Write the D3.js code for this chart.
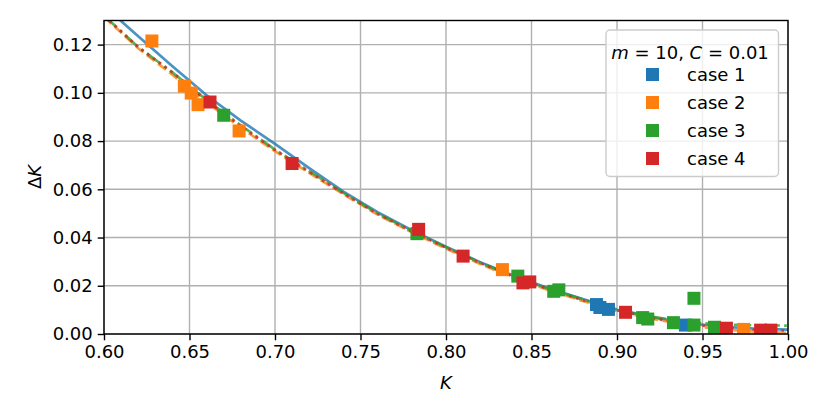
<html>
<head>
<script src="https://cdn.jsdelivr.net/npm/d3@7"></script>
<style>
  body { margin: 0; background: #fff; }
  text { font-family: "DejaVu Sans", sans-serif; }
</style>
</head>
<body>
<svg id="chart" width="830" height="415"></svg>
<script>
// curve samples (K grid shared by all four fitted curves)
var curveK = [0.60, 0.62, 0.64, 0.66, 0.68, 0.70, 0.72, 0.74, 0.76, 0.78, 0.80,
              0.82, 0.84, 0.86, 0.88, 0.90, 0.92, 0.94, 0.96, 0.98, 1.00];
var curve1 = [0.136, 0.1235, 0.111, 0.099, 0.0885, 0.0788, 0.0688, 0.0590, 0.0505, 0.0430, 0.0362,
              0.0298, 0.0240, 0.0190, 0.0145, 0.0100, 0.0070, 0.0046, 0.0031, 0.0022, 0.0018];
var curve2 = [0.1315, 0.1185, 0.1075, 0.0960, 0.0855, 0.0758, 0.0668, 0.0580, 0.0495, 0.0422, 0.0354,
              0.0290, 0.0232, 0.0182, 0.0137, 0.0095, 0.0064, 0.0038, 0.0020, 0.0010, 0.0005];
var curve3 = [0.132, 0.119, 0.1085, 0.0970, 0.0865, 0.0765, 0.0675, 0.0585, 0.0500, 0.0427, 0.0360,
              0.0296, 0.0238, 0.0188, 0.0143, 0.0102, 0.0072, 0.0050, 0.0040, 0.0036, 0.0035];
var curve4 = [0.132, 0.119, 0.1085, 0.0968, 0.0862, 0.0763, 0.0672, 0.0583, 0.0498, 0.0425, 0.0358,
              0.0294, 0.0236, 0.0186, 0.0140, 0.0098, 0.0067, 0.0042, 0.0027, 0.0018, 0.0014];

// measured points
var case1K = [0.888, 0.890, 0.895, 0.940];
var case1D = [0.0122, 0.0110, 0.0102, 0.0037];
var case2K = [0.628, 0.647, 0.651, 0.655, 0.679, 0.833, 0.974];
var case2D = [0.1215, 0.1028, 0.0999, 0.0951, 0.0842, 0.0267, 0.0019];
var case3K = [0.670, 0.783, 0.842, 0.863, 0.866, 0.915, 0.918, 0.933, 0.945, 0.945, 0.957];
var case3D = [0.0907, 0.0416, 0.0240, 0.0177, 0.0183, 0.0068, 0.0062, 0.0047, 0.0037, 0.0148, 0.0028];
var case4K = [0.662, 0.710, 0.784, 0.810, 0.845, 0.849, 0.905, 0.964, 0.984, 0.990];
var case4D = [0.0962, 0.0707, 0.0434, 0.0323, 0.0212, 0.0216, 0.0090, 0.0024, 0.0016, 0.0016];

var caseNames = ["case 1", "case 2", "case 3", "case 4"];
var colors = ["#1f77b4", "#ff7f0e", "#2ca02c", "#d62728"];
var xTicks = [0.60, 0.65, 0.70, 0.75, 0.80, 0.85, 0.90, 0.95, 1.00];
var yTicks = [0.00, 0.02, 0.04, 0.06, 0.08, 0.10, 0.12];

var pL = 104, pR = 788, pT = 20.5, pB = 334;
var x = d3.scaleLinear().domain([0.6, 1.0]).range([pL, pR]);
var y = d3.scaleLinear().domain([0, 0.13]).range([pB, pT]);

var svg = d3.select("#chart");

svg.append("defs").append("clipPath").attr("id", "plot")
  .append("rect").attr("x", pL).attr("y", pT)
  .attr("width", pR - pL).attr("height", pB - pT);

// grid
svg.append("g").selectAll("line").data(xTicks).enter().append("line")
  .attr("x1", function(d){ return x(d); }).attr("x2", function(d){ return x(d); })
  .attr("y1", pT).attr("y2", pB)
  .attr("stroke", "#b0b0b0").attr("stroke-width", 1.4);
svg.append("g").selectAll("line").data(yTicks).enter().append("line")
  .attr("y1", function(d){ return y(d); }).attr("y2", function(d){ return y(d); })
  .attr("x1", pL).attr("x2", pR)
  .attr("stroke", "#b0b0b0").attr("stroke-width", 1.4);

// curves
var curves = [curve1, curve2, curve3, curve4];
var dashes = [null, "10,4.3", "17.3,4.3,2.7,4.3", "2.7,4.5"];
var line = d3.line().x(function(d){ return x(d[0]); }).y(function(d){ return y(d[1]); });
var lineG = svg.append("g").attr("clip-path", "url(#plot)");
curves.forEach(function(c, i) {
  lineG.append("path")
    .attr("d", line(d3.zip(curveK, c)))
    .attr("fill", "none")
    .attr("stroke", colors[i])
    .attr("stroke-opacity", 0.8)
    .attr("stroke-width", 2.7)
    .attr("stroke-dasharray", dashes[i]);
});

// markers
var ms = 13;
var caseK = [case1K, case2K, case3K, case4K];
var caseD = [case1D, case2D, case3D, case4D];
var markG = svg.append("g").attr("clip-path", "url(#plot)");
caseK.forEach(function(ks, i) {
  markG.selectAll(".m" + i).data(d3.zip(ks, caseD[i])).enter()
    .append("rect").classed("m" + i, 1)
    .attr("x", function(d){ return x(d[0]) - ms / 2; })
    .attr("y", function(d){ return y(d[1]) - ms / 2; })
    .attr("width", ms).attr("height", ms)
    .attr("fill", colors[i]);
});

// axes
var xAxis = svg.append("g").attr("transform", "translate(0," + pB + ")")
  .call(d3.axisBottom(x).tickValues(xTicks).tickFormat(d3.format(".2f")).tickSize(6.3).tickPadding(5));
var yAxis = svg.append("g").attr("transform", "translate(" + pL + ",0)")
  .call(d3.axisLeft(y).tickValues(yTicks).tickFormat(d3.format(".2f")).tickSize(6.3).tickPadding(5));
[xAxis, yAxis].forEach(function(a) {
  a.select(".domain").remove();
  a.selectAll(".tick line").attr("stroke", "#000").attr("stroke-width", 1.4);
  a.selectAll(".tick text").attr("font-size", 18).attr("fill", "#000")
    .attr("font-family", "DejaVu Sans");
});

// frame
svg.append("rect").attr("x", pL).attr("y", pT)
  .attr("width", pR - pL).attr("height", pB - pT)
  .attr("fill", "none").attr("stroke", "#000").attr("stroke-width", 1.4);

// axis labels
svg.append("text").attr("x", (pL + pR) / 2).attr("y", 389)
  .attr("text-anchor", "middle").attr("font-size", 18)
  .attr("font-style", "italic").text("K");
var yl = svg.append("text").attr("transform", "translate(41,177) rotate(-90)")
  .attr("text-anchor", "middle").attr("font-size", 18);
yl.append("tspan").text("Δ");
yl.append("tspan").attr("font-style", "italic").text("K");

// legend
var lg = svg.append("g");
lg.append("rect").attr("x", 606).attr("y", 30).attr("width", 172.5).attr("height", 146.5)
  .attr("rx", 4).attr("fill", "#fff").attr("fill-opacity", 0.8)
  .attr("stroke", "#cccccc").attr("stroke-width", 1.4);
var title = lg.append("text").attr("x", 690).attr("y", 58.5)
  .attr("text-anchor", "middle").attr("font-size", 18);
title.append("tspan").attr("font-style", "italic").text("m");
title.append("tspan").text(" = 10, ");
title.append("tspan").attr("font-style", "italic").text("C");
title.append("tspan").text(" = 0.01");
caseNames.forEach(function(n, i) {
  var cy = 74.5 + i * 28;
  lg.append("rect").attr("x", 646).attr("y", cy - 6.5)
    .attr("width", 13).attr("height", 13).attr("fill", colors[i]);
  lg.append("text").attr("x", 687).attr("y", cy + 6.5)
    .attr("font-size", 18).text(n);
});
</script>
</body>
</html>
